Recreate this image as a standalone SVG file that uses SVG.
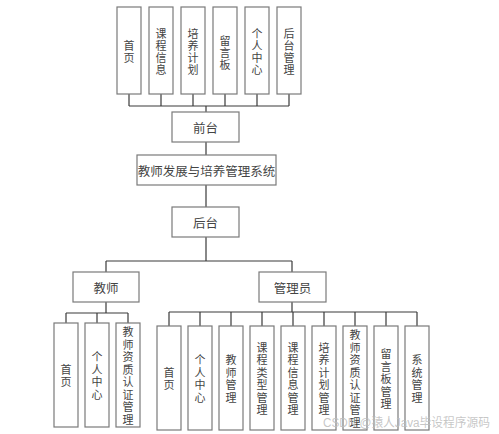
<svg xmlns="http://www.w3.org/2000/svg" width="499" height="434" viewBox="0 0 499 434">
<style>
.b{fill:#fff;stroke:#7a7a7a;stroke-width:1.2}
.c{fill:none;stroke:#3a3a3a;stroke-width:1.2}
.t{font-family:"Noto Sans CJK SC","Noto Sans",sans-serif;fill:#444;text-anchor:middle;dominant-baseline:central}
.v{font-size:11px}
.m{font-size:12.5px}
.w{font-family:"Liberation Sans","Noto Sans CJK SC",sans-serif;font-size:12.5px;fill:#bdbdbd;fill-opacity:0.85}
</style>
<rect width="499" height="434" fill="#fff"/>
<g id="connectors">
<path class="c" d="M129 94V106M161 94V106M193 94V106M225 94V106M257 94V106M289 94V106M129 106H289M206 106V112"/>
<path class="c" d="M206 142V155M206 185V207M206 237V261M106 261H292M106 261V272M292 261V272"/>
<path class="c" d="M106 302V313M66 313H128M66 313V323M97 313V323M128 313V323"/>
<path class="c" d="M292 302V312M169 312H417M169 312V326M200 312V326M231 312V326M262 312V326M293 312V326M324 312V326M355 312V326M386 312V326M417 312V326"/>
</g>
<g id="n-shouye1"><rect class="b" x="117" y="7" width="24" height="87"/><text class="t v"><tspan x="129" y="44.5">首</tspan><tspan x="129" y="56.5">页</tspan></text></g>
<g id="n-kechengxinxi1"><rect class="b" x="149" y="7" width="24" height="87"/><text class="t v"><tspan x="161" y="32.5">课</tspan><tspan x="161" y="44.5">程</tspan><tspan x="161" y="56.5">信</tspan><tspan x="161" y="68.5">息</tspan></text></g>
<g id="n-peiyangjihua1"><rect class="b" x="181" y="7" width="24" height="87"/><text class="t v"><tspan x="193" y="32.5">培</tspan><tspan x="193" y="44.5">养</tspan><tspan x="193" y="56.5">计</tspan><tspan x="193" y="68.5">划</tspan></text></g>
<g id="n-liuyanban1"><rect class="b" x="213" y="7" width="24" height="87"/><text class="t v"><tspan x="225" y="40">留</tspan><tspan x="225" y="52">言</tspan><tspan x="225" y="64">板</tspan></text></g>
<g id="n-gerenzhongxin1"><rect class="b" x="245" y="7" width="24" height="87"/><text class="t v"><tspan x="257" y="32.5">个</tspan><tspan x="257" y="44.5">人</tspan><tspan x="257" y="56.5">中</tspan><tspan x="257" y="68.5">心</tspan></text></g>
<g id="n-houtaiguanli"><rect class="b" x="277" y="7" width="24" height="87"/><text class="t v"><tspan x="289" y="32.5">后</tspan><tspan x="289" y="44.5">台</tspan><tspan x="289" y="56.5">管</tspan><tspan x="289" y="68.5">理</tspan></text></g>
<g id="n-qiantai"><rect class="b" x="172" y="112" width="67" height="30"/><text class="t m" x="205.5" y="127">前台</text></g>
<g id="n-system"><rect class="b" x="137" y="155" width="139" height="30"/><text class="t m" x="206.5" y="170">教师发展与培养管理系统</text></g>
<g id="n-houtai"><rect class="b" x="172" y="207" width="67" height="30"/><text class="t m" x="205.5" y="222">后台</text></g>
<g id="n-jiaoshi"><rect class="b" x="73" y="272" width="66" height="30"/><text class="t m" x="106" y="287">教师</text></g>
<g id="n-guanliyuan"><rect class="b" x="259" y="272" width="67" height="30"/><text class="t m" x="292.5" y="287">管理员</text></g>
<g id="n-t-shouye"><rect class="b" x="54" y="323" width="24" height="104"/><text class="t v"><tspan x="66" y="368.75">首</tspan><tspan x="66" y="381.25">页</tspan></text></g>
<g id="n-t-geren"><rect class="b" x="85" y="323" width="24" height="104"/><text class="t v"><tspan x="97" y="356.25">个</tspan><tspan x="97" y="368.75">人</tspan><tspan x="97" y="381.25">中</tspan><tspan x="97" y="393.75">心</tspan></text></g>
<g id="n-t-zizhi"><rect class="b" x="116" y="323" width="24" height="104"/><text class="t v"><tspan x="128" y="331.25">教</tspan><tspan x="128" y="343.75">师</tspan><tspan x="128" y="356.25">资</tspan><tspan x="128" y="368.75">质</tspan><tspan x="128" y="381.25">认</tspan><tspan x="128" y="393.75">证</tspan><tspan x="128" y="406.25">管</tspan><tspan x="128" y="418.75">理</tspan></text></g>
<g id="n-a-shouye"><rect class="b" x="157" y="326" width="24" height="104"/><text class="t v"><tspan x="169" y="371.75">首</tspan><tspan x="169" y="384.25">页</tspan></text></g>
<g id="n-a-geren"><rect class="b" x="188" y="326" width="24" height="104"/><text class="t v"><tspan x="200" y="359.25">个</tspan><tspan x="200" y="371.75">人</tspan><tspan x="200" y="384.25">中</tspan><tspan x="200" y="396.75">心</tspan></text></g>
<g id="n-a-jiaoshi"><rect class="b" x="219" y="326" width="24" height="104"/><text class="t v"><tspan x="231" y="359.25">教</tspan><tspan x="231" y="371.75">师</tspan><tspan x="231" y="384.25">管</tspan><tspan x="231" y="396.75">理</tspan></text></g>
<g id="n-a-leixing"><rect class="b" x="250" y="326" width="24" height="104"/><text class="t v"><tspan x="262" y="346.75">课</tspan><tspan x="262" y="359.25">程</tspan><tspan x="262" y="371.75">类</tspan><tspan x="262" y="384.25">型</tspan><tspan x="262" y="396.75">管</tspan><tspan x="262" y="409.25">理</tspan></text></g>
<g id="n-a-xinxi"><rect class="b" x="281" y="326" width="24" height="104"/><text class="t v"><tspan x="293" y="346.75">课</tspan><tspan x="293" y="359.25">程</tspan><tspan x="293" y="371.75">信</tspan><tspan x="293" y="384.25">息</tspan><tspan x="293" y="396.75">管</tspan><tspan x="293" y="409.25">理</tspan></text></g>
<g id="n-a-peiyang"><rect class="b" x="312" y="326" width="24" height="104"/><text class="t v"><tspan x="324" y="346.75">培</tspan><tspan x="324" y="359.25">养</tspan><tspan x="324" y="371.75">计</tspan><tspan x="324" y="384.25">划</tspan><tspan x="324" y="396.75">管</tspan><tspan x="324" y="409.25">理</tspan></text></g>
<g id="n-a-zizhi"><rect class="b" x="343" y="326" width="24" height="104"/><text class="t v"><tspan x="355" y="334.25">教</tspan><tspan x="355" y="346.75">师</tspan><tspan x="355" y="359.25">资</tspan><tspan x="355" y="371.75">质</tspan><tspan x="355" y="384.25">认</tspan><tspan x="355" y="396.75">证</tspan><tspan x="355" y="409.25">管</tspan><tspan x="355" y="421.75">理</tspan></text></g>
<g id="n-a-liuyan"><rect class="b" x="374" y="326" width="24" height="104"/><text class="t v"><tspan x="386" y="353">留</tspan><tspan x="386" y="365.5">言</tspan><tspan x="386" y="378">板</tspan><tspan x="386" y="390.5">管</tspan><tspan x="386" y="403">理</tspan></text></g>
<g id="n-a-xitong"><rect class="b" x="405" y="326" width="24" height="104"/><text class="t v"><tspan x="417" y="359.25">系</tspan><tspan x="417" y="371.75">统</tspan><tspan x="417" y="384.25">管</tspan><tspan x="417" y="396.75">理</tspan></text></g>
<text class="w" x="323" y="427" textLength="167" lengthAdjust="spacingAndGlyphs">CSDN @猿人Java毕设程序源码</text>
</svg>
